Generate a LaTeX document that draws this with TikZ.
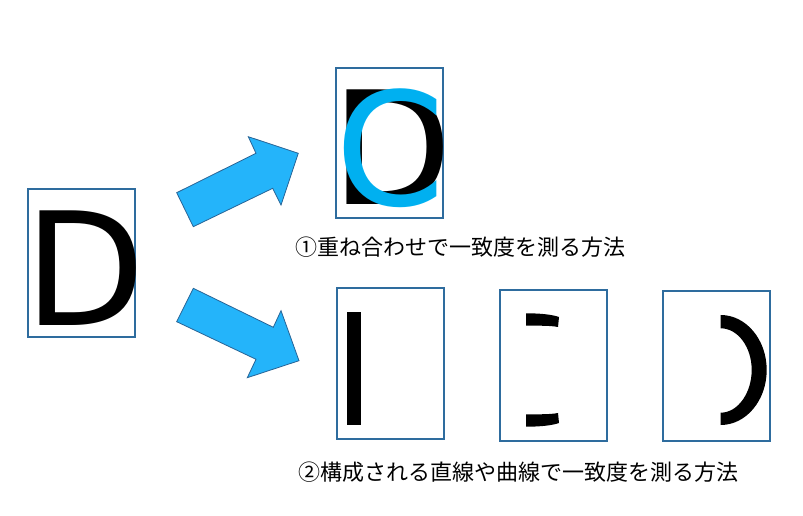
\documentclass[tikz,border=0pt]{standalone}
\usepackage{fontspec}
\newfontfamily\jpfont{Noto Sans CJK JP}
\newfontfamily\glyphfont{DejaVu Sans}
\definecolor{boxblue}{RGB}{46,108,158}
\definecolor{arrowfill}{RGB}{36,180,250}
\definecolor{arrowline}{RGB}{40,100,150}
\definecolor{overlayblue}{RGB}{0,176,240}
\tikzset{every picture/.style={line width=0.75pt}}
\tikzset{
  framebox/.style={draw=boxblue, line width=1.1pt},
  bigarrow/.style={fill=arrowfill, draw=arrowline, line width=0.6pt, line join=miter},
  letter/.style={anchor=base, inner sep=0pt, font=\glyphfont\fontsize{118}{118}\selectfont},
  caption/.style={inner sep=0.75pt, font=\jpfont\fontsize{16.5}{20}\selectfont}
}
\begin{document}
\begin{tikzpicture}[x=0.75pt,y=0.75pt,yscale=-1,xscale=1]
\useasboundingbox (0,0) rectangle (803,516);

%Frames
\draw [framebox] (28,189) rectangle (135,337) ;
\draw [framebox] (336,68) rectangle (443,218) ;
\draw [framebox] (337,288) rectangle (444,439) ;
\draw [framebox] (500,290) rectangle (607,441) ;
\draw [framebox] (663,291) rectangle (770,441) ;

%Block Arrows
\draw [bigarrow] (176.7,192.7) -- (256,153.3) -- (248.3,136.7) -- (298.3,153.3) -- (281,205) -- (272.7,188.3) -- (193.3,226.7) -- cycle ;
\draw [bigarrow] (193.3,288.3) -- (273.3,327.3) -- (281,310.7) -- (299,360.7) -- (247.3,377.7) -- (256,359.3) -- (176.7,321.7) -- cycle ;

% Letters
\node (srcD) [letter] at (85,326) {D};
\node (topD) [letter] at (392.5,205) {D};
\node (topC) [letter, text=overlayblue] at (390.5,205.5) {C};

%Straight stroke
\fill (346.7,312.3) rectangle (360.7,425.3) ;
%Stroke ends
\fill (526,313.3) .. controls (540,313.3) and (552,314.5) .. (559,317) -- (558,327) .. controls (550,325.5) and (540,325.7) .. (526,325.7) -- cycle ;
\fill (526,426.7) .. controls (540,426.7) and (552,425.5) .. (559,423) -- (558,413) .. controls (550,414.5) and (540,414.3) .. (526,414.3) -- cycle ;
%Curved stroke
\fill (720.7,315) .. controls (746.1,315) and (766.7,339.6) .. (766.7,370) .. controls (766.7,400.4) and (746.1,425) .. (720.7,425) -- (720.7,412.7) .. controls (737.8,412.7) and (751.7,393) .. (751.7,370) .. controls (751.7,347) and (737.8,328.3) .. (720.7,328.3) -- cycle ;

% Text Node
\node (overlay) [caption] at (460,247) {①重ね合わせで一致度を測る方法};
% Text Node
\node (strokes) [caption] at (518,472) {②構成される直線や曲線で一致度を測る方法};
\end{tikzpicture}
\end{document}
